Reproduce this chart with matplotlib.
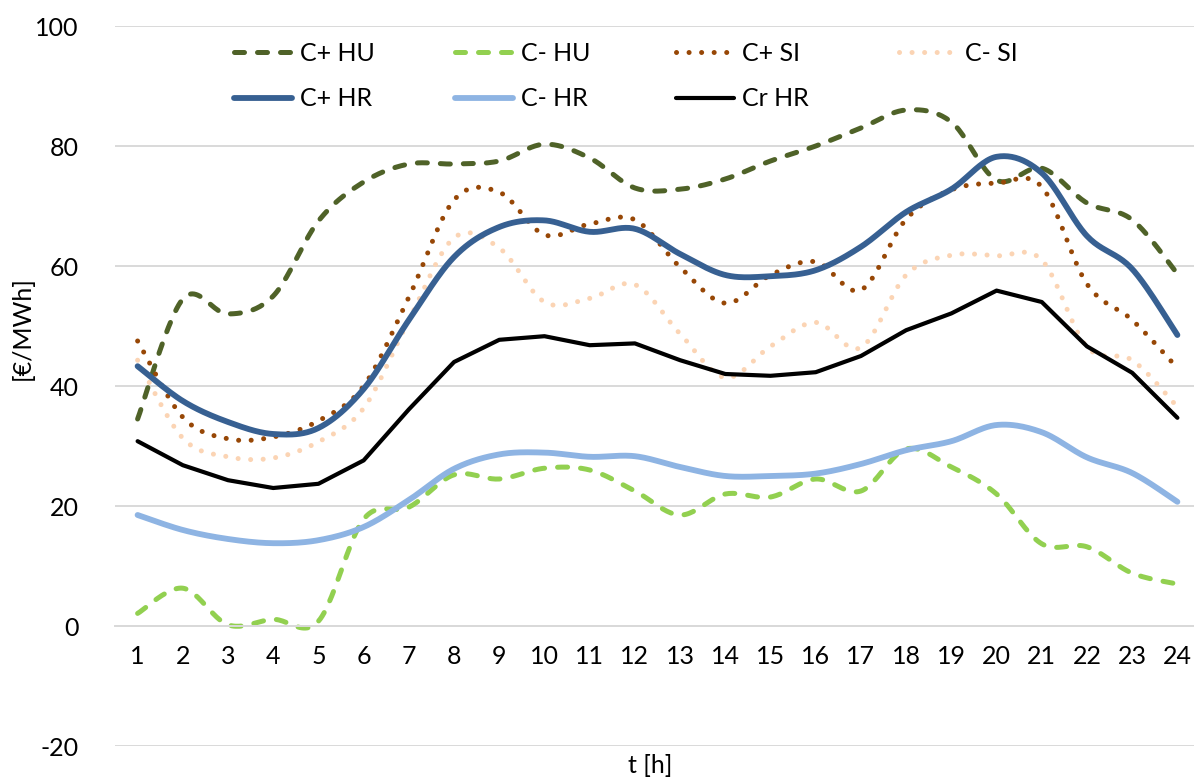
import numpy as np
import matplotlib
matplotlib.use("Agg")
import matplotlib.pyplot as plt

plt.rcParams['font.family'] = ['Lato', 'DejaVu Sans']
plt.rcParams['axes.unicode_minus'] = False

hours = list(range(1, 25))

# values [€/MWh]
c_plus_hu = [34.5, 54.5, 52, 55, 67.5, 74, 77, 77, 77.5, 80.3, 78, 73,
             72.8, 74.5, 77.5, 80, 83, 86, 84, 74.3, 76.3, 70.5, 67.7, 58.7]
c_minus_hu = [2.1, 6.3, 0.2, 1.1, 0.8, 17.8, 19.8, 25.2, 24.5, 26.3, 26, 22.5,
              18.5, 22, 21.5, 24.5, 22.5, 29.5, 26.5, 22, 13.7, 13.2, 8.8, 7]
c_plus_si = [47.5, 34.8, 31.2, 31.5, 34.2, 40, 54.8, 71, 72.3, 65.2, 67, 67.7,
             59.8, 53.8, 58.5, 60.7, 56, 67.8, 72.7, 73.8, 73.2, 57, 51, 43]
c_minus_si = [44.3, 31.3, 28.2, 28, 30.7, 36.3, 51, 64.7, 63, 54, 54.6, 56.9,
              48.7, 41.4, 46.6, 50.6, 46.4, 58.5, 61.8, 61.7, 61, 46.5, 44.3, 36.5]
c_plus_hr = [43.3, 37.5, 34, 32, 33, 39.5, 51, 61.5, 66.5, 67.6, 65.7, 66.2,
             62, 58.5, 58.3, 59.3, 63.2, 69, 72.8, 78.2, 75.5, 65, 59.5, 48.5]
c_minus_hr = [18.5, 16, 14.5, 13.8, 14.3, 16.5, 21, 26.2, 28.6, 28.9, 28.2, 28.3,
              26.5, 25, 25, 25.4, 27, 29.3, 30.8, 33.5, 32.3, 28.1, 25.5, 20.7]
cr_hr = [30.8, 26.8, 24.3, 23, 23.7, 27.6, 36.1, 44, 47.7, 48.3, 46.8, 47.1,
         44.3, 42, 41.7, 42.3, 45, 49.3, 52.1, 55.9, 54, 46.6, 42.2, 34.7]

labels = ['C+ HU', 'C- HU', 'C+ SI', 'C- SI', 'C+ HR', 'C- HR', 'Cr HR']
colors = ['#4F6228', '#92D050', '#974706', '#FBD4B4', '#376092', '#8EB4E3', '#000000']


def smooth(x, y, n=24):
    # Catmull-Rom curve through the points, like Excel's smoothed line
    pts = np.column_stack([x, y]).astype(float)
    p = np.vstack([pts[0], pts, pts[-1]])
    t = np.linspace(0, 1, n, endpoint=False)[:, None]
    h00 = 2 * t**3 - 3 * t**2 + 1
    h10 = t**3 - 2 * t**2 + t
    h01 = -2 * t**3 + 3 * t**2
    h11 = t**3 - t**2
    out = []
    for i in range(1, len(p) - 2):
        m1 = (p[i + 1] - p[i - 1]) / 2
        m2 = (p[i + 2] - p[i]) / 2
        out.append(h00 * p[i] + h10 * m1 + h01 * p[i + 1] + h11 * m2)
    out.append(pts[-1:])
    s = np.vstack(out)
    return s[:, 0], s[:, 1]


fig = plt.figure(figsize=(11.94, 7.78), dpi=100)
W, H = 1194, 778
ax = fig.add_axes([115 / W, 32 / H, (1200 - 115) / W, (746 - 26) / H])

dash = dict(linestyle=(0, (2.0, 2.6)), dash_capstyle='round', lw=3.6)
dot = dict(linestyle=(0, (0.01, 2.5)), dash_capstyle='round', lw=3.6)
solid = dict(linestyle='-', solid_capstyle='round')

series = [
    (c_plus_hu, dash, True),
    (c_minus_hu, dash, True),
    (c_plus_si, dot, True),
    (c_minus_si, dot, True),
    (c_plus_hr, dict(solid, lw=4.2), True),
    (c_minus_hr, dict(solid, lw=4.2), True),
    (cr_hr, dict(solid, lw=3.0), False),
]

handles = []
for (vals, style, sm), lab, col in zip(series, labels, colors):
    if sm:
        xs, ys = smooth(hours, vals)
    else:
        xs, ys = hours, vals
    ln, = ax.plot(xs, ys, color=col, label=lab, **style)
    handles.append(ln)

ax.set_xlim(0.5, 24.5)
ax.set_ylim(-20, 100)
ax.set_yticks(range(-20, 101, 20))
ax.set_xticks(hours)
ax.grid(axis='y', color='#D9D9D9', lw=1.4)
ax.set_axisbelow(True)
for s in ['left', 'right', 'top']:
    ax.spines[s].set_visible(False)
ax.spines['bottom'].set_position(('data', 0))
ax.spines['bottom'].set_color('#D9D9D9')
ax.spines['bottom'].set_linewidth(1.4)
ax.tick_params(axis='both', length=0, labelsize=18, colors='black')
ax.tick_params(axis='x', pad=14)
ax.tick_params(axis='y', pad=26)

fig.text(22 / W, 1 - 328 / H, '[€/MWh]', rotation=90, ha='center', va='center', fontsize=18)
fig.text(650 / W, 1 / H, 't [h]', ha='center', va='bottom', fontsize=18)

# legend: four columns at fixed spacing, like Excel
cols = [[0, 4], [1, 5], [2, 6], [3]]
col_x = [234, 455, 676, 899]
for idx, cx in zip(cols, col_x):
    fig.legend([handles[i] for i in idx], [labels[i] for i in idx],
               loc='upper left', bbox_to_anchor=(cx / W, 1 - 42 / H),
               frameon=False, fontsize=18, handlelength=2.3,
               handletextpad=0.35, labelspacing=0.9, borderpad=0,
               borderaxespad=0)

fig.savefig('out.png', dpi=100)
